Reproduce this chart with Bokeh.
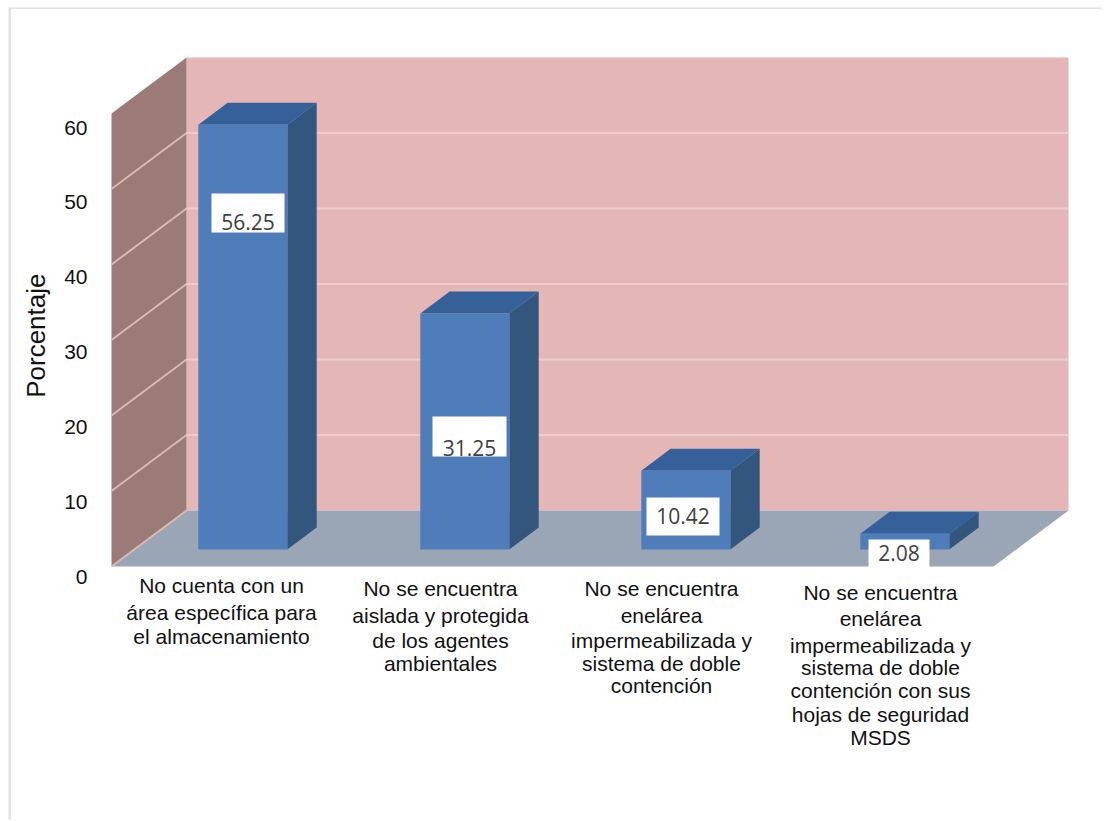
from bokeh.core.properties import value
from bokeh.embed import file_html
from bokeh.models import FixedTicker, LinearAxis, Range1d, Title
from bokeh.plotting import figure
from bokeh.resources import INLINE

# Chart data
categories = [
    "No cuenta con un\nárea específica para\nel almacenamiento",
    "No se encuentra\naislada y protegida\nde los agentes\nambientales",
    "No se encuentra\nenelárea\nimpermeabilizada y\nsistema de doble\ncontención",
    "No se encuentra\nenelárea\nimpermeabilizada y\nsistema de doble\ncontención con sus\nhojas de seguridad\nMSDS",
]
percentages = [56.25, 31.25, 10.42, 2.08]
tick_values = [0, 10, 20, 30, 40, 50, 60]
y_axis_title = "Porcentaje"

# Canvas and oblique projection settings
WIDTH, HEIGHT = 1104, 821
MARGIN_LEFT, MARGIN_TOP = 11, 9
PX_PER_UNIT = 7.55
FLOOR_Y = 566
FRONT_LEFT, FRONT_RIGHT = 111, 993
DEPTH_X, DEPTH_Y = 75, 56
BAR_NEAR, BAR_FAR = 0.304, 0.696
BAR_LEFTS = [175, 397, 618, 837]
BAR_WIDTH = 89

COL_WALL = "#E5B6B6"
COL_SIDE_WALL = "#9B7A78"
COL_FLOOR = "#9AA6B6"
COL_GRID = "#EDCDCB"
COL_SIDE_GRID = "#D9B9B0"
COL_BAR = "#4E7DB9"
COL_BAR_SIDE = "#33567F"
COL_BAR_TOP = "#35609A"
COL_BORDER = "#E3E3E3"


def project(x, v, d=0.0):
    """Map a floor position, a percentage and a depth (0 front, 1 back) to plot coordinates."""
    return x + DEPTH_X * d, v + DEPTH_Y * d / PX_PER_UNIT


def val_y(px):
    """Percentage whose front-plane position sits at the given pixel row."""
    return (FLOOR_Y - px) / PX_PER_UNIT


def face(*corners):
    xs, ys = zip(*[project(*c) for c in corners])
    return list(xs), list(ys)


FRAME_LEFT = 96
p = figure(
    width=WIDTH - MARGIN_LEFT, height=HEIGHT - MARGIN_TOP,
    margin=(MARGIN_TOP, 0, 0, MARGIN_LEFT),
    styles={"box-shadow": f"-2.5px -1.5px 0 {COL_BORDER}"},
    output_backend="svg", toolbar_location=None,
    x_range=Range1d(FRAME_LEFT, WIDTH),
    y_range=Range1d(val_y(HEIGHT), val_y(MARGIN_TOP)),
    min_border_left=FRAME_LEFT - MARGIN_LEFT, min_border_right=0, min_border_top=0, min_border_bottom=0,
    x_axis_location=None, y_axis_location=None,
    background_fill_color="white", border_fill_color="white", outline_line_color=None,
)
p.grid.visible = False

# Tick labels sit slightly below the gridlines, so they use their own range
LABEL_ZERO_PX, LABEL_SCALE = 576, 7.483
p.extra_y_ranges = {"ticks": Range1d(-(HEIGHT - LABEL_ZERO_PX) / LABEL_SCALE, (LABEL_ZERO_PX - MARGIN_TOP) / LABEL_SCALE)}
axis = LinearAxis(
    y_range_name="ticks", ticker=FixedTicker(ticks=tick_values),
    axis_line_color=None, major_tick_line_color=None, minor_tick_line_color=None,
    major_label_text_font="Liberation Sans", major_label_text_font_size="21px",
    major_label_text_color="#111111", major_label_standoff=3,
)
p.add_layout(axis, "left")

# Rotated axis title: it ends at pixel row 273, measured down from the frame top
p.add_layout(Title(
    text=y_axis_title, align="right", offset=273 - MARGIN_TOP, standoff=17, vertical_align="top",
    text_font="Liberation Sans", text_font_size="26px", text_font_style="normal", text_color="#111111",
), "left")

# Back wall, side wall and floor
xs, ys = face((FRONT_LEFT, 0, 1), (FRONT_RIGHT, 0, 1), (FRONT_RIGHT, 60, 1), (FRONT_LEFT, 60, 1))
p.patch(xs, ys, fill_color=COL_WALL, line_color=None)
xs, ys = face((FRONT_LEFT, 0, 0), (FRONT_LEFT, 0, 1), (FRONT_LEFT, 60, 1), (FRONT_LEFT, 60, 0))
p.patch(xs, ys, fill_color=COL_SIDE_WALL, line_color=None)
xs, ys = face((FRONT_LEFT, 0, 0), (FRONT_RIGHT, 0, 0), (FRONT_RIGHT, 0, 1), (FRONT_LEFT, 0, 1))
p.patch(xs, ys, fill_color=COL_FLOOR, line_color=None)

# Gridlines across both walls
for t in tick_values[:-1]:
    xs, ys = face((FRONT_LEFT, t, 0), (FRONT_LEFT, t, 1))
    p.line(xs, ys, line_color=COL_SIDE_GRID, line_width=2)
    if t:
        xs, ys = face((FRONT_LEFT, t, 1), (FRONT_RIGHT, t, 1))
        p.line(xs, ys, line_color=COL_GRID, line_width=2)

# Bars: side, top and front faces, one from each percentage
for left, v in zip(BAR_LEFTS, percentages):
    right = left + BAR_WIDTH
    xs, ys = face((right, 0, BAR_NEAR), (right, 0, BAR_FAR), (right, v, BAR_FAR), (right, v, BAR_NEAR))
    p.patch(xs, ys, fill_color=COL_BAR_SIDE, line_color=None)
    xs, ys = face((left, v, BAR_NEAR), (right, v, BAR_NEAR), (right, v, BAR_FAR), (left, v, BAR_FAR))
    p.patch(xs, ys, fill_color=COL_BAR_TOP, line_color=None)
    xs, ys = face((left, 0, BAR_NEAR), (right, 0, BAR_NEAR), (right, v, BAR_NEAR), (left, v, BAR_NEAR))
    p.patch(xs, ys, fill_color=COL_BAR, line_color=None)

# White value boxes: left, right, top and bottom pixel, then the text row
BOX_LAYOUT = [
    (211, 284, 193, 232, 221),
    (432, 506, 416, 456, 447),
    (646, 719, 497, 535, 515),
    (868, 929, 539, 573, 552),
]
for (l, r, t, b, ty), v in zip(BOX_LAYOUT, percentages):
    p.quad(left=l, right=r, top=val_y(t), bottom=val_y(b), fill_color="white", line_color=None)
    p.text(x=[(l + r) / 2], y=[val_y(ty)], text=[f"{v:.2f}"], text_align="center", text_baseline="middle",
           text_font=value("Open Sans"), text_font_size="21px", text_color="#404040")

# Category labels under the floor: centre column and one baseline row per text line
LABEL_LAYOUT = [
    (221, [585, 612, 636]),
    (440, [588, 615, 640, 663]),
    (661, [588, 615, 640, 663, 685]),
    (880, [592, 618, 645, 667, 690, 714, 737]),
]
for (cx, rows), text in zip(LABEL_LAYOUT, categories):
    for row, line in zip(rows, text.split("\n")):
        p.text(x=[cx], y=[val_y(row)], text=[line], text_align="center", text_baseline="alphabetic",
               text_font=value("Liberation Sans"), text_font_size="21px", text_color="#111111")

open("out.html", "w").write(file_html(p, INLINE))
